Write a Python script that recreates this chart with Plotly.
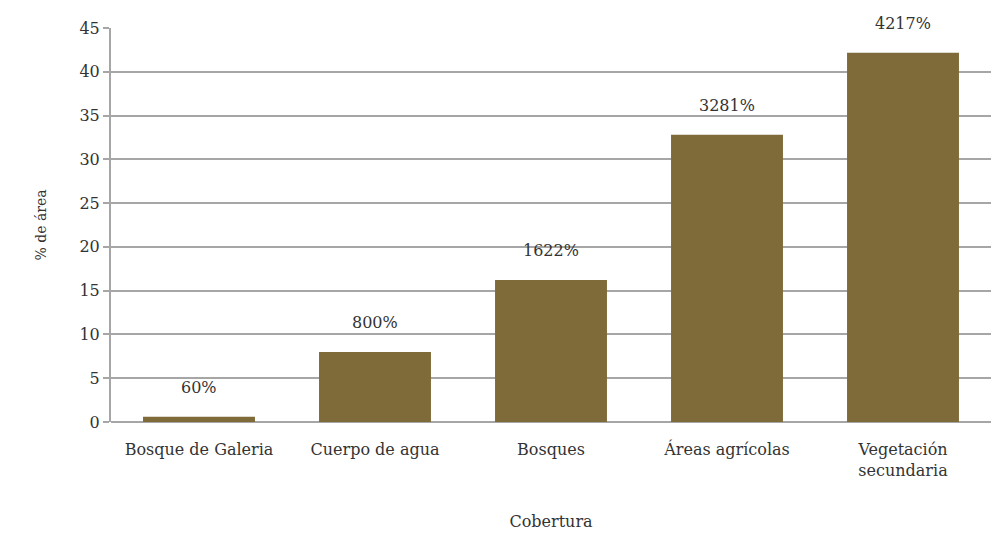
import plotly.graph_objects as go

categories = ["Bosque de Galeria", "Cuerpo de agua", "Bosques", "Áreas agrícolas", "Vegetación<br>secundaria"]
values = [0.6, 8.0, 16.22, 32.81, 42.17]
labels = ["60%", "800%", "1622%", "3281%", "4217%"]
y_ticks = [0, 5, 10, 15, 20, 25, 30, 35, 40, 45]

FONT = "DejaVu Serif"
TXT = "#333333"
GRID = "#a6a6a6"

fig = go.Figure()
fig.add_trace(go.Bar(
    x=categories, y=values,
    marker=dict(color="#7f6b3a", line=dict(width=0)),
    width=0.636,
    hoverinfo="skip",
))
for c, v, t in zip(categories, values, labels):
    fig.add_annotation(x=c, y=v, text=t, showarrow=False, yshift=29,
                       yanchor="middle", font=dict(family=FONT, size=16, color=TXT))

fig.update_layout(
    width=991, height=538,
    margin=dict(l=111, r=0, t=28, b=116),
    plot_bgcolor="white", paper_bgcolor="white",
    showlegend=False,
    font=dict(family=FONT, size=15, color=TXT),
    bargap=0.364,
)
fig.update_xaxes(
    showgrid=False, showline=False, ticks="",
    tickfont=dict(family=FONT, size=16, color=TXT),
    ticklabelstandoff=16,
    title=dict(text="Cobertura", font=dict(family=FONT, size=16, color=TXT), standoff=37),
)
fig.update_yaxes(
    range=[0, 45], tickvals=y_ticks,
    showgrid=True, gridcolor=GRID, gridwidth=2,
    zeroline=True, zerolinecolor=GRID, zerolinewidth=2,
    showline=True, linecolor=GRID, linewidth=2,
    ticks="outside", ticklen=6, tickcolor=GRID, tickwidth=2,
    tickfont=dict(family=FONT, size=16, color=TXT),
    title=dict(text="% de área", font=dict(family=FONT, size=14, color=TXT), standoff=30),
)

fig.write_html("out.html")
